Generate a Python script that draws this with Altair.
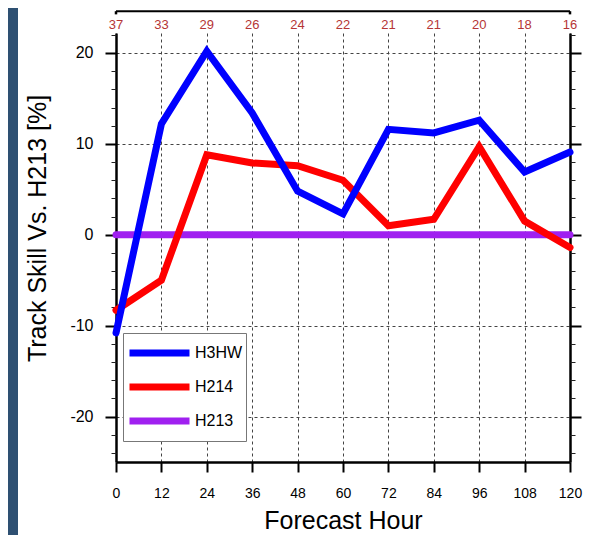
import altair as alt
import pandas as pd

# ---- data ----
hours = [0, 12, 24, 36, 48, 60, 72, 84, 96, 108, 120]
cases = [37, 33, 29, 26, 24, 22, 21, 21, 20, 18, 16]
h3hw = [-10.8, 12.2, 20.2, 13.4, 4.8, 2.3, 11.6, 11.2, 12.6, 6.9, 9.1]
h214 = [-8.3, -5.0, 8.8, 7.9, 7.6, 6.0, 1.0, 1.7, 9.7, 1.5, -1.4]
h213 = [0, 0, 0, 0, 0, 0, 0, 0, 0, 0, 0]
models = ["H3HW", "H214", "H213"]
colors = ["#0000ff", "#ff0000", "#a020f0"]
y_major = [-20, -10, 0, 10, 20]
y_minor = [-24, -22, -18, -16, -14, -12, -8, -6, -4, -2, 2, 4, 6, 8, 12, 14, 16, 18, 22]

# long table, drawn purple first, then red, then blue on top
rows = []
for name, vals in [("H213", h213), ("H214", h214), ("H3HW", h3hw)]:
    for h, v in zip(hours, vals):
        rows.append({"hour": h, "value": v, "model": name})
df_lines = pd.DataFrame(rows)
df_counts = pd.DataFrame({"hour": hours, "n": cases})
df_ends = pd.DataFrame({"hour": [hours[0], hours[-1]]})
df_one = pd.DataFrame({"hour": [hours[0]]})

FONT = "Liberation Sans"
W, H = 454, 429
xscale = alt.Scale(domain=[0, 120], nice=False, zero=False)
yscale = alt.Scale(domain=[-25, 22.2], nice=False, zero=False)

x_axis = alt.Axis(values=hours, tickSize=10, tickWidth=2, tickColor="black",
                  domainWidth=2.5, domainColor="black", labelFontSize=14,
                  labelPadding=14, labelColor="black", labelFlush=False,
                  labelOverlap=False, grid=True, gridDash=[3, 3],
                  gridColor="#444444", gridWidth=1, title="Forecast Hour",
                  titleFontSize=25, titleFontWeight="normal", titleColor="black",
                  titleY=66, titleBaseline="alphabetic")

y_left = alt.Axis(orient="left", values=y_major, tickSize=11, tickWidth=2,
                  tickColor="black", domainWidth=2.5, domainColor="black",
                  labelFontSize=16, labelPadding=12, labelColor="black",
                  labelExpr="'' + datum.value",
                  grid=True, gridDash=[3, 3], gridColor="#444444", gridWidth=1,
                  title="Track Skill Vs. H213 [%]", titleFontSize=25,
                  titleFontWeight="normal", titleColor="black", titleAngle=270,
                  titleX=-79, titleY=195, titleAlign="center",
                  titleBaseline="middle")
y_left_minor = alt.Axis(orient="left", values=y_minor, tickSize=5, tickWidth=1,
                        tickColor="#222222", domain=False, labels=False,
                        grid=False, title=None)
y_right = alt.Axis(orient="right", values=y_major, tickSize=11, tickWidth=2,
                   tickColor="black", domainWidth=2.5, domainColor="black",
                   labels=False, grid=False, title=None)
y_right_minor = alt.Axis(orient="right", values=y_minor, tickSize=5, tickWidth=1,
                         tickColor="#222222", domain=False, labels=False,
                         grid=False, title=None)

legend = alt.Legend(title=None, orient="none", legendX=7, legendY=300,
                    symbolType="stroke", symbolSize=3600, symbolStrokeWidth=7,
                    clipHeight=34, rowPadding=0, padding=3,
                    symbolOffset=0, labelOffset=2,
                    strokeColor="#777777", fillColor="white",
                    labelFontSize=16, labelColor="black", labelFont=FONT)

strip = alt.Chart(df_one).mark_rect(color="#2e5072").encode(
    x=alt.value(-108), x2=alt.value(-98), y=alt.value(-25), y2=alt.value(510))

lines = alt.Chart(df_lines).mark_line(strokeWidth=7, strokeCap="round").encode(
    x=alt.X("hour:Q", scale=xscale, axis=x_axis),
    y=alt.Y("value:Q", scale=yscale, axis=y_left),
    color=alt.Color("model:N", scale=alt.Scale(domain=models, range=colors),
                    legend=legend),
)

counts = alt.Chart(df_counts).mark_text(color="#b53535", fontSize=13,
                                        baseline="middle", font=FONT).encode(
    x=alt.X("hour:Q", scale=xscale, axis=x_axis),
    y=alt.YDatum(23.1, type="quantitative", scale=yscale, axis=y_left_minor),
    text="n:Q",
)

frame_top = alt.Chart(df_one).mark_rule(color="black", strokeWidth=2).encode(
    x=alt.X("hour:Q", scale=xscale, axis=x_axis),
    x2=alt.X2Datum(120),
    y=alt.YDatum(24.6, type="quantitative", scale=yscale, axis=y_right),
)

frame_stubs = alt.Chart(df_ends).mark_rule(color="black", strokeWidth=2.5).encode(
    x=alt.X("hour:Q", scale=xscale, axis=x_axis),
    y=alt.YDatum(24.6, type="quantitative", scale=yscale, axis=y_right_minor),
    y2=alt.Y2Datum(24.25),
)

chart = alt.layer(strip, lines, counts, frame_top, frame_stubs).resolve_axis(
    y="independent"
).properties(
    width=W, height=H,
    autosize=alt.AutoSizeParams(type="none"),
    padding={"left": 108, "top": 25, "right": 16, "bottom": 73},
    background="white",
).configure_view(stroke=None).configure_axis(
    labelFont=FONT, titleFont=FONT
).configure_legend(labelFont=FONT)

chart.save("out.html", embed_options={"renderer": "svg", "actions": False})
